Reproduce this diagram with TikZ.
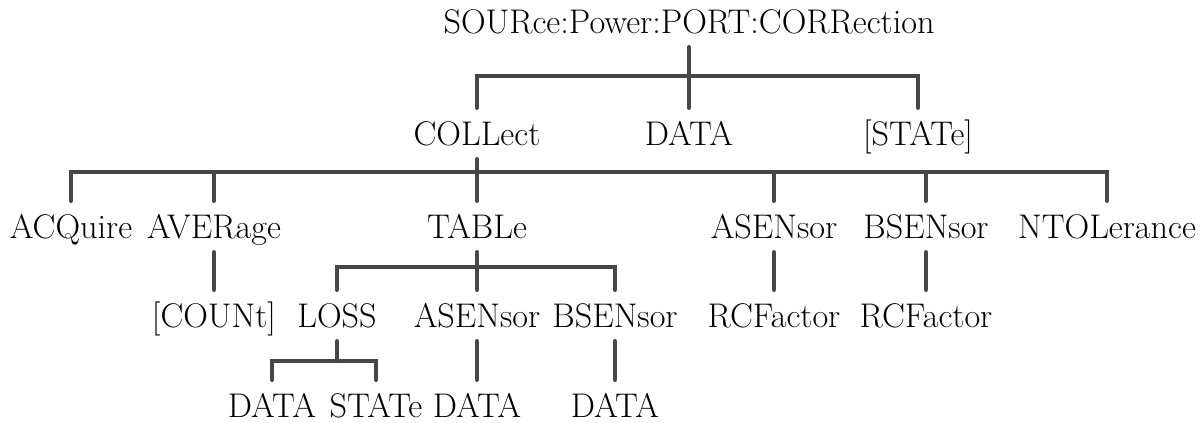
\documentclass[tikz,border=0pt]{standalone}
\definecolor{wiregray}{HTML}{474747}

\begin{document}
\begin{tikzpicture}[
	x=1pt, y=-1pt,
	cmd/.style={
		font=\fontsize{34.2}{41}\selectfont, anchor=base,
		inner sep=0pt, text height=37pt, text depth=14pt
	},
	wire/.style={line width=4.4pt, draw=wiregray, line cap=round}
	]
	
	\useasboundingbox (0,0) rectangle (1203,423);
	
	% Top command
	\node[cmd] (root) at (689,33) {SOURce:Power:PORT:CORRection};
	
	% First level
	\node[cmd] (collect) at (477,145) {COLLect};
	\node[cmd] (data)    at (689,145) {DATA};
	\node[cmd] (state)   at (918,145) {[STATe]};
	
	% Second level
	\node[cmd] (acq)   at (71,238)   {ACQuire};
	\node[cmd] (aver)  at (214,238)  {AVERage};
	\node[cmd] (table) at (477,238)  {TABLe};
	\node[cmd] (asens) at (774,238)  {ASENsor};
	\node[cmd] (bsens) at (926,238)  {BSENsor};
	\node[cmd] (ntol)  at (1107,238) {NTOLerance};
	
	% Third level
	\node[cmd] (count)  at (214,327) {[COUNt]};
	\node[cmd] (loss)   at (337,327) {LOSS};
	\node[cmd] (tasens) at (477,327) {ASENsor};
	\node[cmd] (tbsens) at (615,327) {BSENsor};
	\node[cmd] (arcf)   at (774,327) {RCFactor};
	\node[cmd] (brcf)   at (926,327) {RCFactor};
	
	% Fourth level
	\node[cmd] (ldata)  at (272,417) {DATA};
	\node[cmd] (lstate) at (376,417) {STATe};
	\node[cmd] (adata)  at (477,417) {DATA};
	\node[cmd] (bdata)  at (615,417) {DATA};
	
	% Bus lines
	\coordinate (bus1) at (689,76);
	\coordinate (bus2) at (477,172);
	\coordinate (bus3) at (477,267);
	\coordinate (bus4) at (337,361);
	
	% --- Branches ---
	\draw[wire] (root.south) -- (data.north);
	\draw[wire] (collect.north) |- (bus1) -| (state.north);
	
	\draw[wire] (collect.south) -- (table.north);
	\draw[wire] (acq.north) |- (bus2) -| (ntol.north);
	\foreach \n in {aver,asens,bsens}
		\draw[wire] (\n.north) -- (\n.north |- bus2);
	
	\draw[wire] (aver.south) -- (count.north);
	\draw[wire] (asens.south) -- (arcf.north);
	\draw[wire] (bsens.south) -- (brcf.north);
	
	\draw[wire] (table.south) -- (tasens.north);
	\draw[wire] (loss.north) |- (bus3) -| (tbsens.north);
	\draw[wire] (tasens.south) -- (adata.north);
	\draw[wire] (tbsens.south) -- (bdata.north);
	
	\draw[wire] (loss.south) -- (bus4);
	\draw[wire] (ldata.north) |- (bus4) -| (lstate.north);
\end{tikzpicture}
\end{document}
